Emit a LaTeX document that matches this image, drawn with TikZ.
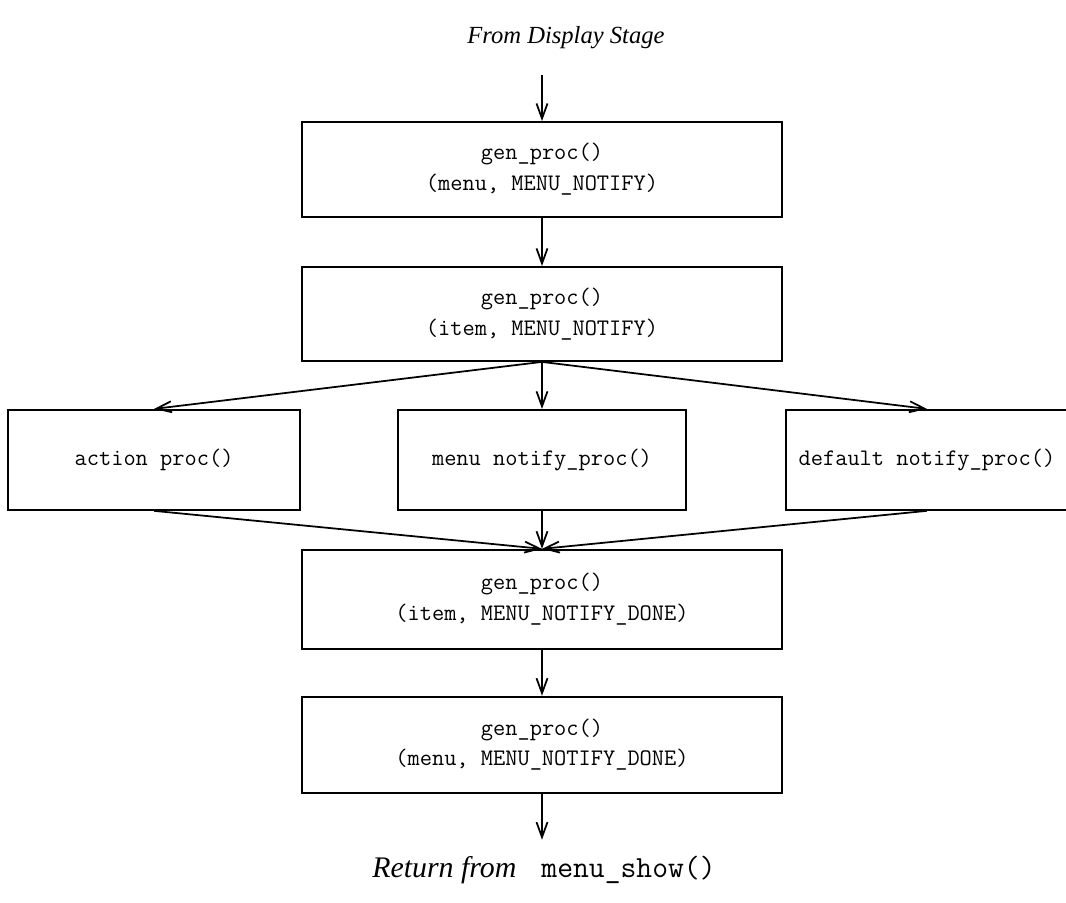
\documentclass[tikz,border=0pt]{standalone}
\usepackage{fontspec}
\setmainfont{Liberation Serif}
\usepackage{tikz}
\usetikzlibrary{positioning,arrows.meta}
\tikzset{
  caja/.style={rectangle, draw=black, line width=1.1pt, minimum width=9.6cm,
    minimum height=1.92cm, align=center, inner sep=0pt,
    font=\ttfamily\fontsize{13.5}{17.5}\selectfont},
  cajal/.style={rectangle, draw=black, line width=1.1pt, minimum width=5.8cm,
    minimum height=2cm, align=center, inner sep=0pt,
    font=\ttfamily\fontsize{13.5}{17.5}\selectfont},
  flecha/.style={-{Straight Barb[length=3mm,width=2.2mm]}, line width=1pt, draw=black},
  etq/.style={font=\itshape\fontsize{14}{17}\selectfont, inner sep=0pt},
}

\begin{document}
\begin{tikzpicture}[node distance=0.96cm and 1.92cm]
  \useasboundingbox (0,0) rectangle (21.32,-18.06);
  \node[etq] (ini) at (11.32,-0.76) {From Display Stage};
  \node[caja, minimum height=1.9cm] (gen1) at (10.84,-3.39) {gen\_proc()\\(menu, MENU\_NOTIFY)};
  \coordinate[above=0.92cm of gen1] (entrada);
  \node[caja, below=of gen1, minimum height=1.88cm] (gen2) {gen\_proc()\\(item, MENU\_NOTIFY)};
  \node[cajal, below=0.94cm of gen2, minimum width=5.76cm] (menu) {menu notify\_proc()};
  \node[cajal, left=of menu, minimum width=5.84cm] (accion) {action proc()};
  \node[cajal, right=1.96cm of menu, minimum width=5.64cm] (defecto) {default notify\_proc()};
  \node[caja, below=0.76cm of menu, minimum height=1.98cm] (gen3) {gen\_proc()\\(item, MENU\_NOTIFY\_DONE)};
  \node[caja, below=0.92cm of gen3] (gen4) {gen\_proc()\\(menu, MENU\_NOTIFY\_DONE)};
  \coordinate[below=0.92cm of gen4] (salida);
  \node[etq, font=\fontsize{17}{19}\selectfont] (ret) at (10.88,-17.4)
    {\textit{Return from}\hspace{0.5cm}{\ttfamily\fontsize{17.5}{19}\selectfont menu\_show()}};
  \draw[flecha] (entrada) -- (gen1);
  \draw[flecha] (gen1) -- (gen2);
  \draw[flecha] (gen2.south) -- (accion.north);
  \draw[flecha] (gen2.south) -- (menu.north);
  \draw[flecha] (gen2.south) -- (defecto.north);
  \draw[flecha] (accion.south) -- (gen3.north);
  \draw[flecha] (menu.south) -- (gen3.north);
  \draw[flecha] (defecto.south) -- (gen3.north);
  \draw[flecha] (gen3) -- (gen4);
  \draw[flecha] (gen4) -- (salida);
\end{tikzpicture}
\end{document}
